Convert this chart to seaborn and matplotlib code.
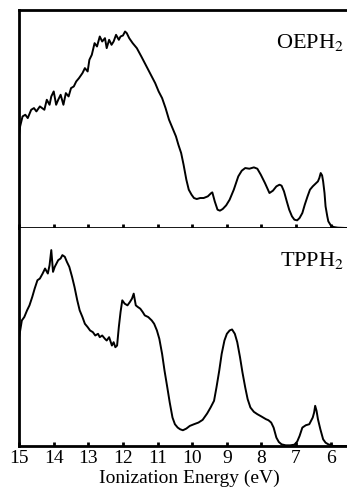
import matplotlib
matplotlib.use("Agg")
import matplotlib.pyplot as plt
import seaborn as sns
import numpy as np

# OEPH2 spectrum (ionization energy in eV, relative counts)
oeph_ev = [15.0, 14.97, 14.9, 14.82, 14.75, 14.65, 14.57, 14.5, 14.4, 14.27, 14.2, 14.12,
           14.07, 14.0, 13.93, 13.87, 13.8, 13.72, 13.65, 13.57, 13.5, 13.42, 13.35, 13.27,
           13.17, 13.1, 13.02, 12.97, 12.9, 12.82, 12.75, 12.67, 12.6, 12.52, 12.47, 12.4,
           12.33, 12.27, 12.2, 12.12, 12.07, 12.0, 11.94, 11.89, 11.82, 11.72, 11.6, 11.47,
           11.37, 11.27, 11.17, 11.07, 10.97, 10.87, 10.77, 10.67, 10.57, 10.47, 10.4, 10.32,
           10.25, 10.17, 10.1, 10.02, 9.95, 9.87, 9.77, 9.67, 9.55, 9.45, 9.42, 9.35, 9.27,
           9.2, 9.12, 9.02, 8.92, 8.8, 8.67, 8.57, 8.47, 8.35, 8.22, 8.12, 8.02, 7.9, 7.77,
           7.67, 7.57, 7.48, 7.42, 7.35, 7.27, 7.2, 7.12, 7.05, 6.97, 6.9, 6.82, 6.75, 6.67,
           6.6, 6.52, 6.45, 6.37, 6.33, 6.29, 6.25, 6.22, 6.18, 6.15, 6.1, 6.07, 6.0, 5.92,
           5.8, 5.57, 5.4, 5.2]
oeph_int = [280, 305, 335, 340, 330, 355, 360, 350, 365, 355, 385, 370,
            395, 410, 370, 385, 400, 370, 405, 395, 420, 425, 440, 450,
            465, 480, 470, 505, 520, 555, 545, 575, 560, 570, 540, 565,
            550, 560, 580, 565, 575, 578, 590, 585, 570, 555, 540, 515,
            495, 475, 455, 435, 410, 390, 360, 325, 300, 275, 250, 225,
            190, 145, 115, 100, 90, 87, 90, 90, 95, 105, 107, 80, 55,
            52, 57, 68, 85, 115, 155, 172, 180, 178, 182, 178, 160, 135, 105,
            112, 125, 130, 127, 110, 80, 55, 35, 25, 23, 30, 45, 70, 95,
            115, 125, 132, 140, 150, 165, 158, 140, 105, 65, 35, 20, 8, 3,
            1, 0, 0, 0]

# TPPH2 spectrum
tpph_ev = [15.0, 14.92, 14.85, 14.77, 14.7, 14.62, 14.55, 14.47, 14.4, 14.32, 14.25, 14.17,
           14.12, 14.07, 14.02, 13.97, 13.92, 13.87, 13.8, 13.75, 13.68, 13.62, 13.55,
           13.47, 13.4, 13.32, 13.25, 13.17, 13.1, 13.02, 12.95, 12.87, 12.8, 12.72, 12.67,
           12.6, 12.52, 12.47, 12.4, 12.32, 12.27, 12.22, 12.17, 12.12, 12.07, 12.02, 11.95,
           11.87, 11.8, 11.74, 11.69, 11.63, 11.57, 11.5, 11.43, 11.37, 11.27, 11.17, 11.1,
           11.02, 10.95, 10.87, 10.8, 10.72, 10.65, 10.57, 10.5, 10.42, 10.35, 10.27, 10.17,
           10.07, 9.95, 9.82, 9.7, 9.57, 9.47, 9.37, 9.3, 9.22, 9.15, 9.07, 9.0, 8.92, 8.85,
           8.77, 8.7, 8.62, 8.55, 8.47, 8.4, 8.32, 8.22, 8.12, 8.0, 7.87, 7.8, 7.72, 7.65,
           7.57, 7.5, 7.42, 7.3, 7.17, 7.05, 6.97, 6.9, 6.82, 6.72, 6.62, 6.57, 6.52, 6.48,
           6.45, 6.41, 6.37, 6.3, 6.22, 6.15, 6.07, 5.98, 5.92, 5.7, 5.4, 5.2]
tpph_int = [325, 375, 385, 405, 420, 445, 470, 495, 500, 515, 530, 515,
            540, 585, 520, 535, 545, 555, 560, 570, 565, 550, 535,
            505, 475, 435, 405, 385, 365, 355, 345, 340, 330, 335, 325,
            330, 320, 315, 325, 300, 310, 295, 300, 355, 400, 435, 425,
            420, 430, 440, 455, 420, 415, 410, 400, 390, 385, 375, 365,
            345, 320, 275, 225, 175, 130, 85, 65, 55, 50, 47, 52,
            60, 65, 70, 78, 97, 115, 135, 175, 225, 275, 315, 335, 345, 348,
            335, 310, 265, 220, 175, 140, 115, 102, 95, 88, 80, 77, 70, 55,
            25, 12, 5, 2, 2, 4, 13, 30, 55, 62, 65, 75, 85, 100,
            120, 105, 80, 50, 20, 10, 5, 2, 0, 0, 0, 0]

sns.set_style("ticks", {"axes.edgecolor": "black", "text.color": "black",
                        "xtick.color": "black", "axes.labelcolor": "black"})
plt.rcParams['font.family'] = ['Liberation Serif', 'DejaVu Serif']
plt.rcParams['mathtext.fontset'] = 'stix'

fig = plt.figure(figsize=(3.47, 4.92), dpi=100)
ax1 = fig.add_axes([0.055, 0.5366, 0.98, 0.4434])
ax2 = fig.add_axes([0.055, 0.0935, 0.98, 0.4431])

panels = [(ax1, oeph_ev, oeph_int, 'OEPH$_2$', 655),
          (ax2, tpph_ev, tpph_int, 'TPPH$_2$', 651)]
for ax, xs, ys, name, ytop in panels:
    sns.lineplot(x=xs, y=ys, ax=ax, color='black', linewidth=1.4)
    ax.set_xlim(15, 5.18)
    ax.set_ylim(0, ytop)
    ax.set_yticks([])
    ax.set_xticks(range(15, 5, -1))
    ax.tick_params(axis='x', direction='in', length=3, width=2, labelsize=14, pad=3)
    for s in ['left', 'bottom', 'top']:
        ax.spines[s].set_linewidth(2)
    ax.spines['right'].set_visible(False)
    ax.text(0.955, 0.85, name, transform=ax.transAxes, ha='right', va='center',
            fontsize=16)

ax1.tick_params(axis='x', labelbottom=False)
ax2.spines['top'].set_visible(False)
ax2.set_xlabel('Ionization Energy (eV)', fontsize=14, labelpad=2)

fig.savefig('out.png', dpi=100)
